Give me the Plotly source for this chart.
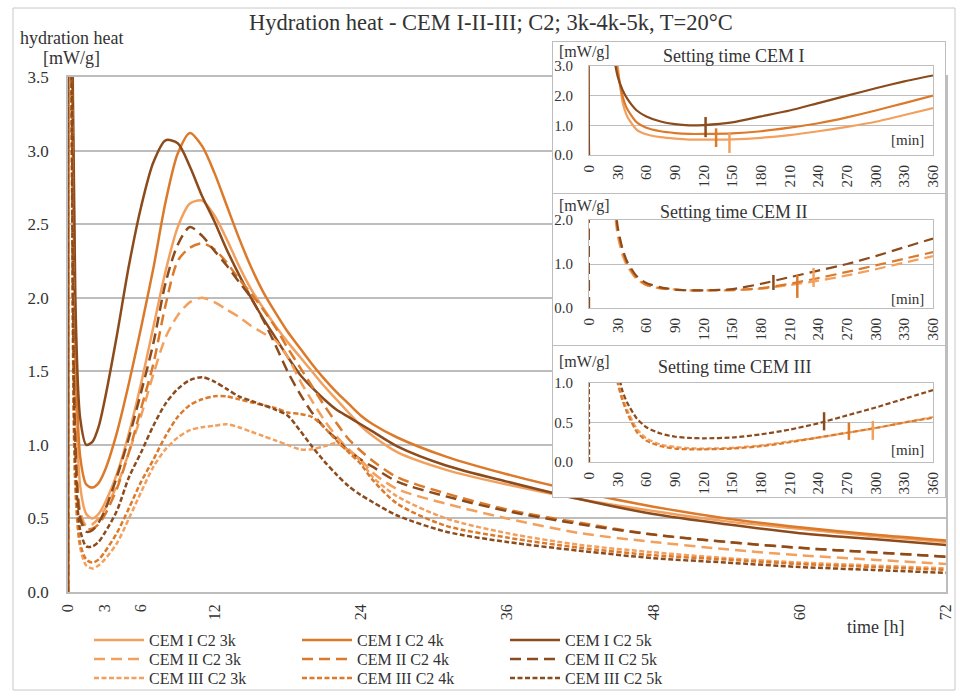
import plotly.graph_objects as go

W, H = 960, 697
def fx(p): return p / W
def fy(p): return 1 - p / H

FONT = "Liberation Serif"
TXT = "#333333"
GRID = "#BDBDBD"

# ---------------- main chart data (time in hours) ----------------
T_H = [0, 0.02, 0.3, 0.6, 1.0, 1.5, 2, 2.5, 3, 4, 5, 6, 7, 8, 9, 10, 11, 12, 13, 14,
       15, 16, 17, 18, 19, 20, 21, 22, 23, 24, 25, 27, 31, 36, 42, 48, 54, 60, 66, 72]

CEM_I_3k = [0, 8, 4.0, 1.5, 0.72, 0.53, 0.5, 0.53, 0.6, 0.8, 1.08, 1.42, 1.8, 2.18, 2.48, 2.64, 2.66, 2.56, 2.4, 2.22,
            2.06, 1.93, 1.81, 1.7, 1.6, 1.5, 1.4, 1.31, 1.22, 1.13, 1.06, 0.95, 0.83, 0.73, 0.63, 0.55, 0.48, 0.43, 0.38, 0.34]
CEM_I_4k = [0, 8, 4.2, 1.75, 0.92, 0.73, 0.71, 0.74, 0.82, 1.08, 1.42, 1.8, 2.2, 2.65, 2.98, 3.12, 3.03, 2.85, 2.63, 2.41,
            2.21, 2.04, 1.9, 1.77, 1.66, 1.55, 1.45, 1.36, 1.28, 1.2, 1.14, 1.05, 0.92, 0.8, 0.68, 0.58, 0.5, 0.44, 0.39, 0.35]
CEM_I_5k = [0, 8, 4.5, 2.0, 1.18, 1.0, 1.02, 1.12, 1.3, 1.74, 2.22, 2.62, 2.92, 3.07, 3.05, 2.89, 2.69, 2.52, 2.33, 2.16,
            2.0, 1.86, 1.73, 1.6, 1.48, 1.39, 1.31, 1.24, 1.19, 1.14, 1.09, 0.99, 0.86, 0.75, 0.63, 0.53, 0.46, 0.4, 0.36, 0.32]
CEM_II_3k = [0, 8, 3.6, 1.1, 0.55, 0.45, 0.46, 0.5, 0.56, 0.72, 0.95, 1.2, 1.48, 1.73, 1.88, 1.97, 2.0, 1.97, 1.92, 1.87,
             1.81, 1.76, 1.71, 1.6, 1.44, 1.3, 1.17, 1.06, 0.97, 0.9, 0.81, 0.7, 0.6, 0.5, 0.4, 0.34, 0.29, 0.25, 0.22, 0.19]
CEM_II_4k = [0, 8, 3.6, 1.05, 0.52, 0.43, 0.43, 0.46, 0.52, 0.7, 0.95, 1.25, 1.55, 1.95, 2.25, 2.34, 2.37, 2.33, 2.24, 2.13,
             2.03, 1.92, 1.8, 1.66, 1.53, 1.4, 1.27, 1.15, 1.04, 0.96, 0.89, 0.78, 0.67, 0.56, 0.47, 0.39, 0.34, 0.3, 0.27, 0.24]
CEM_II_5k = [0, 8, 3.6, 1.0, 0.5, 0.41, 0.42, 0.47, 0.55, 0.78, 1.05, 1.36, 1.69, 2.1, 2.36, 2.48, 2.42, 2.32, 2.22, 2.11,
             2.0, 1.85, 1.68, 1.5, 1.35, 1.22, 1.12, 1.04, 0.96, 0.9, 0.85, 0.75, 0.65, 0.55, 0.46, 0.39, 0.34, 0.3, 0.27, 0.24]
CEM_III_3k = [0, 8, 3.2, 0.7, 0.3, 0.18, 0.16, 0.18, 0.22, 0.33, 0.5, 0.68, 0.85, 0.97, 1.05, 1.1, 1.12, 1.13, 1.14, 1.12,
              1.09, 1.06, 1.03, 1.0, 0.97, 0.97, 0.99, 1.01, 0.96, 0.89, 0.78, 0.65, 0.5, 0.4, 0.32, 0.27, 0.23, 0.2, 0.18, 0.16]
CEM_III_4k = [0, 8, 3.2, 0.75, 0.33, 0.22, 0.2, 0.22, 0.27, 0.4, 0.57, 0.75, 0.9, 1.06, 1.19, 1.27, 1.31, 1.33, 1.33, 1.31,
              1.29, 1.27, 1.25, 1.22, 1.21, 1.19, 1.12, 1.03, 0.95, 0.87, 0.76, 0.6, 0.45, 0.37, 0.3, 0.25, 0.22, 0.19, 0.17, 0.15]
CEM_III_5k = [0, 8, 3.4, 0.9, 0.42, 0.31, 0.31, 0.34, 0.4, 0.55, 0.78, 0.95, 1.13, 1.28, 1.38, 1.44, 1.46, 1.43, 1.38, 1.33,
              1.3, 1.27, 1.24, 1.2, 1.1, 0.99, 0.89, 0.8, 0.72, 0.66, 0.61, 0.52, 0.41, 0.34, 0.28, 0.23, 0.2, 0.17, 0.15, 0.13]

# ---------------- inset data (time in minutes) ----------------
T_M = [0, 1, 15, 25, 30, 35, 40, 50, 60, 75, 90, 105, 120, 150, 180, 210, 240, 270, 300, 330, 360]

SET_I_3k = [0, 12, 8, 4.2, 3.0, 1.8, 1.3, 0.85, 0.7, 0.6, 0.55, 0.52, 0.52, 0.53, 0.58, 0.67, 0.8, 0.95, 1.12, 1.35, 1.58]
SET_I_4k = [0, 12, 8, 3.9, 2.8, 2.0, 1.55, 1.1, 0.92, 0.8, 0.74, 0.71, 0.71, 0.73, 0.8, 0.92, 1.07, 1.27, 1.5, 1.75, 2.0]
SET_I_5k = [0, 12, 8, 3.6, 2.65, 2.2, 1.9, 1.5, 1.3, 1.13, 1.04, 1.0, 1.01, 1.1, 1.3, 1.5, 1.75, 2.0, 2.25, 2.48, 2.68]
SET_II_3k = [0, 12, 6, 2.6, 1.65, 1.2, 0.95, 0.65, 0.52, 0.44, 0.42, 0.4, 0.4, 0.4, 0.44, 0.52, 0.62, 0.74, 0.88, 1.03, 1.18]
SET_II_4k = [0, 12, 6, 2.8, 1.75, 1.3, 1.0, 0.68, 0.53, 0.45, 0.42, 0.4, 0.4, 0.41, 0.45, 0.55, 0.68, 0.82, 0.97, 1.12, 1.27]
SET_II_5k = [0, 12, 6, 3.0, 1.85, 1.35, 1.05, 0.72, 0.57, 0.47, 0.42, 0.4, 0.4, 0.43, 0.55, 0.7, 0.85, 1.0, 1.18, 1.38, 1.58]
SET_III_3k = [0, 12, 5, 1.7, 1.08, 0.82, 0.66, 0.42, 0.3, 0.22, 0.19, 0.175, 0.17, 0.18, 0.21, 0.26, 0.31, 0.37, 0.43, 0.5, 0.57]
SET_III_4k = [0, 12, 5, 1.6, 1.0, 0.78, 0.62, 0.38, 0.27, 0.2, 0.17, 0.16, 0.16, 0.17, 0.2, 0.25, 0.31, 0.37, 0.43, 0.5, 0.56]
SET_III_5k = [0, 12, 5, 2.0, 1.2, 0.9, 0.75, 0.55, 0.44, 0.36, 0.32, 0.305, 0.3, 0.31, 0.35, 0.41, 0.49, 0.59, 0.69, 0.8, 0.91]

# setting-time markers (min) for 3k, 4k, 5k and the extent of each marker
MARK_I_T = [147, 133, 122]
MARK_I_LO = [0.07, 0.27, 0.6]
MARK_I_HI = [0.74, 0.9, 1.28]
MARK_II_T = [235, 218, 193]
MARK_II_LO = [0.48, 0.23, 0.41]
MARK_II_HI = [0.91, 0.75, 0.75]
MARK_III_T = [297, 272, 246]
MARK_III_LO = [0.28, 0.28, 0.4]
MARK_III_HI = [0.52, 0.5, 0.63]

MAIN_XTICKS = [0, 3, 6, 12, 24, 36, 48, 60, 72]
INSET_XTICKS = list(range(0, 361, 30))

KS = ["3k", "4k", "5k"]
CEMS = ["I", "II", "III"]
COLORS = {"3k": "#F2A05E", "4k": "#DC7A2B", "5k": "#8C4B1C"}
DASH = {"I": "solid", "II": "11px,6px", "III": "5px,2.5px"}
LEG = {"I": "legend", "II": "legend2", "III": "legend3"}

MAIN = {("I", "3k"): CEM_I_3k, ("I", "4k"): CEM_I_4k, ("I", "5k"): CEM_I_5k,
        ("II", "3k"): CEM_II_3k, ("II", "4k"): CEM_II_4k, ("II", "5k"): CEM_II_5k,
        ("III", "3k"): CEM_III_3k, ("III", "4k"): CEM_III_4k, ("III", "5k"): CEM_III_5k}
INSET = {"I": [SET_I_3k, SET_I_4k, SET_I_5k],
         "II": [SET_II_3k, SET_II_4k, SET_II_5k],
         "III": [SET_III_3k, SET_III_4k, SET_III_5k]}
MARKS = {"I": (MARK_I_T, MARK_I_LO, MARK_I_HI),
         "II": (MARK_II_T, MARK_II_LO, MARK_II_HI),
         "III": (MARK_III_T, MARK_III_LO, MARK_III_HI)}

fig = go.Figure()

# main traces
for cem in CEMS:
    for k in KS:
        fig.add_trace(go.Scatter(
            x=T_H, y=MAIN[(cem, k)], mode="lines", name=f"CEM {cem} C2 {k}",
            line=dict(color=COLORS[k], width=2.5, dash=DASH[cem], shape="spline", smoothing=0.8),
            legend=LEG[cem], xaxis="x", yaxis="y", hoverinfo="skip"))

# insets: white background box + plot
inset_boxes = [(42, 193), (194, 345), (346, 497)]
inset_plots = [(66, 155), (220, 308), (383, 462)]
inset_ranges = [3, 2, 1]
inset_dticks = [1, 1, 0.5]
axis_n = 2
layout_axes = {}
for i, cem in enumerate(CEMS):
    bx, by = axis_n, axis_n + 1
    fig.add_trace(go.Scatter(x=[0, 1, 1, 0, 0], y=[0, 0, 1, 1, 0], fill="toself", fillcolor="white",
                             mode="lines", line=dict(width=0, color="white"), showlegend=False,
                             hoverinfo="skip", xaxis=f"x{bx}", yaxis=f"y{bx}"))
    top, bot = inset_boxes[i]
    layout_axes[f"xaxis{bx}"] = dict(domain=[fx(553), fx(945)], range=[0, 1], anchor=f"y{bx}", automargin=False,
                                     showticklabels=False, showgrid=False, zeroline=False, ticks="",
                                     showline=True, mirror=True, linecolor=GRID, linewidth=1)
    layout_axes[f"yaxis{bx}"] = dict(domain=[fy(bot), fy(top)], range=[0, 1], anchor=f"x{bx}", automargin=False,
                                     showticklabels=False, showgrid=False, zeroline=False, ticks="",
                                     showline=True, mirror=True, linecolor=GRID, linewidth=1)
    for j, k in enumerate(KS):
        fig.add_trace(go.Scatter(
            x=T_M, y=INSET[cem][j], mode="lines", showlegend=False, hoverinfo="skip",
            line=dict(color=COLORS[k], width=2.2, dash=DASH[cem], shape="spline", smoothing=0.6),
            xaxis=f"x{by}", yaxis=f"y{by}"))
    mt, mlo, mhi = MARKS[cem]
    for j, k in enumerate(KS):
        fig.add_trace(go.Scatter(
            x=[mt[j], mt[j]], y=[mlo[j], mhi[j]], mode="lines", showlegend=False, hoverinfo="skip",
            line=dict(color=COLORS[k], width=2.5), xaxis=f"x{by}", yaxis=f"y{by}"))
    ptop, pbot = inset_plots[i]
    layout_axes[f"xaxis{by}"] = dict(domain=[fx(589), fx(933)], range=[0, 360], anchor=f"y{by}", automargin=False,
                                     tickvals=INSET_XTICKS, tickangle=-90, showgrid=False, zeroline=False,
                                     showline=True, mirror=True, linecolor=GRID, linewidth=1,
                                     ticks="outside", ticklen=3, tickcolor="rgba(0,0,0,0)",
                                     tickfont=dict(family=FONT, size=15, color=TXT))
    layout_axes[f"yaxis{by}"] = dict(domain=[fy(pbot), fy(ptop)], range=[0, inset_ranges[i]], anchor=f"x{by}",
                                     automargin=False,
                                     dtick=inset_dticks[i], tickformat=".1f", showgrid=True, gridcolor=GRID,
                                     gridwidth=1, zeroline=False, showline=True, mirror=True, linecolor=GRID,
                                     linewidth=1, ticks="outside", ticklen=12, tickcolor="rgba(0,0,0,0)",
                                     tickfont=dict(family=FONT, size=15, color=TXT))
    axis_n += 2

ann = []
def A(text, x, y, size):
    ann.append(dict(text=text, x=fx(x), y=fy(y), xref="paper", yref="paper", showarrow=False,
                    font=dict(family=FONT, size=size, color=TXT), xanchor="center", yanchor="middle"))

A("Hydration heat - CEM I-II-III; C2; 3k-4k-5k, T=20°C", 491, 22, 22.5)
A("hydration heat", 71, 38, 18)
A("[mW/g]", 71, 58, 18)
A("time [h]", 875, 627, 18)
titles = ["Setting time CEM I", "Setting time CEM II", "Setting time CEM III"]
mwg_y = [52, 206, 362]
title_y = [56, 212, 367]
min_y = [140, 299, 450]
for i in range(3):
    A("[mW/g]", 584, mwg_y[i], 16)
    A(titles[i], 734, title_y[i], 18)
    A("[min]", 907, min_y[i], 15)

legend_common = dict(orientation="h", xanchor="left", yanchor="middle", bgcolor="rgba(0,0,0,0)",
                     font=dict(family=FONT, size=16, color=TXT), itemwidth=50, tracegroupgap=0,
                     entrywidth=143, itemclick=False, itemdoubleclick=False)

fig.update_layout(
    width=W, height=H, margin=dict(l=0, r=0, t=0, b=0, autoexpand=False),
    paper_bgcolor="white", plot_bgcolor="white",
    font=dict(family=FONT, color=TXT),
    xaxis=dict(domain=[fx(68), fx(946)], range=[0, 72], tickvals=MAIN_XTICKS, tickangle=-90,
               showgrid=False, zeroline=False, showline=True, mirror=True, linecolor=GRID, linewidth=1.5,
               ticks="outside", ticklen=4, tickcolor="rgba(0,0,0,0)", automargin=False,
               tickfont=dict(family=FONT, size=16, color=TXT), anchor="y"),
    yaxis=dict(domain=[fy(592), fy(77)], range=[0, 3.5], dtick=0.5, tickformat=".1f", automargin=False,
               showgrid=True, gridcolor=GRID, gridwidth=1.5, zeroline=False, showline=True, mirror=True,
               linecolor=GRID, linewidth=1.5, ticks="outside", ticklen=14, tickcolor="rgba(0,0,0,0)",
               tickfont=dict(family=FONT, size=17, color=TXT), anchor="x"),
    legend=dict(x=fx(89), y=fy(640), **legend_common),
    legend2=dict(x=fx(89), y=fy(659), **legend_common),
    legend3=dict(x=fx(89), y=fy(678), **legend_common),
    annotations=ann,
    shapes=[dict(type="rect", xref="paper", yref="paper", x0=fx(13), x1=fx(955), y0=fy(690), y1=fy(8),
                 line=dict(color="#C8C8C8", width=1), fillcolor="rgba(0,0,0,0)", layer="below")],
    showlegend=True,
    **layout_axes,
)

fig.write_html("out.html")
